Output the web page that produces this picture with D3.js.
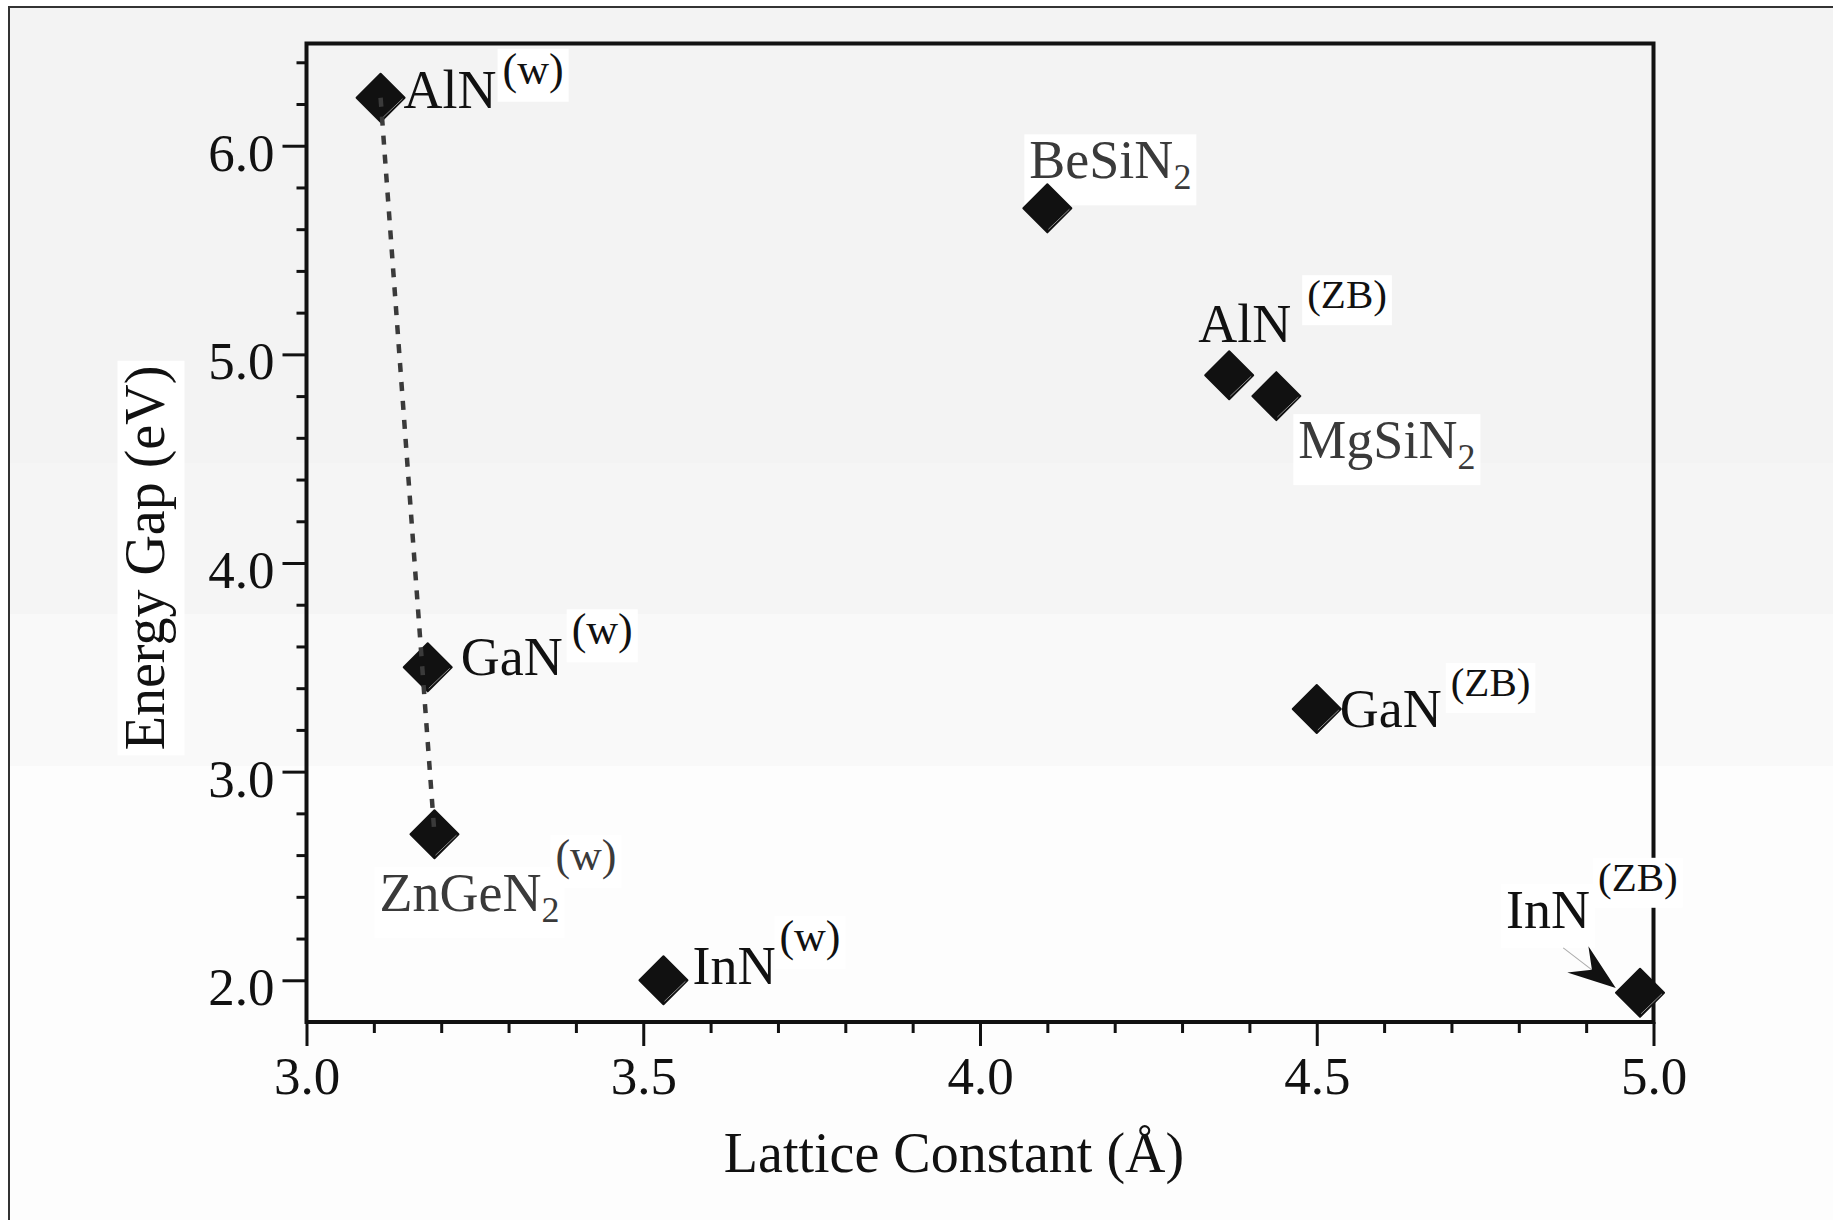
<!DOCTYPE html>
<html>
<head>
<meta charset="utf-8">
<script src="https://cdn.jsdelivr.net/npm/d3@7"></script>
<style>
  html, body { margin: 0; padding: 0; background: #fff; }
  svg { display: block; font-family: "Liberation Serif", "Times New Roman", serif; }
</style>
</head>
<body>
<svg id="chart" width="1833" height="1220"></svg>
<script>
// energy gap vs lattice constant for nitride compounds
const names = ["AlN", "GaN", "ZnGeN", "InN", "BeSiN", "AlN", "MgSiN", "GaN", "InN"];
const subscripts = ["", "", "2", "", "2", "", "2", "", ""];
const superscripts = ["(w)", "(w)", "(w)", "(w)", "", "(ZB)", "", "(ZB)", "(ZB)"];
const latticeConstant = [3.11, 3.18, 3.19, 3.53, 4.10, 4.37, 4.44, 4.50, 4.98];
const energyGap = [6.23, 3.50, 2.70, 2.00, 5.70, 4.90, 4.80, 3.30, 1.94];

const xTicks = [3.0, 3.5, 4.0, 4.5, 5.0];
const yTicks = [2.0, 3.0, 4.0, 5.0, 6.0];

// dotted tie line: indices of the end points
const tieLine = [0, 2];
// arrow to InN(ZB), [lattice constant, gap]
const arrowTail = [4.866, 2.155];
const arrowTip = [4.944, 1.963];

// where each label sits relative to its marker (pixels)
const labelLayout = [
  { dx: 23, dy: 10, supGap: 6, supRise: 24, supSize: 44, color: "#111", mainBox: false, supBox: true },
  { dx: 33, dy: 8, supGap: 9, supRise: 31, supSize: 44, color: "#111", mainBox: false, supBox: true },
  { dx: -55, dy: 77, supGap: -4, supRise: 41, supSize: 44, color: "#3a3a3a", mainBox: true, supBox: true },
  { dx: 29, dy: 4, supGap: 3, supRise: 33, supSize: 44, color: "#111", mainBox: false, supBox: true },
  { dx: -18, dy: -30, supGap: 0, supRise: 0, supSize: 40, color: "#3a3a3a", mainBox: true, supBox: false },
  { dx: -31, dy: -33, supGap: 16, supRise: 34, supSize: 41, color: "#111", mainBox: false, supBox: true },
  { dx: 22, dy: 62, supGap: 0, supRise: 0, supSize: 40, color: "#3a3a3a", mainBox: true, supBox: false },
  { dx: 23, dy: 18, supGap: 9, supRise: 31, supSize: 41, color: "#111", mainBox: false, supBox: true },
  { dx: -134, dy: -65, supGap: 8, supRise: 37, supSize: 41, color: "#111", mainBox: true, supBox: true }
];

const W = 1833, H = 1220;
const svg = d3.select("#chart");

const x = d3.scaleLinear().domain([3.0, 5.0]).range([306.5, 1653.5]);
const y = d3.scaleLinear().domain([1.8, 6.49]).range([1022, 43.5]);

// background bands
const bands = [[7, 463, "#f3f3f3"], [463, 614, "#f5f5f5"], [614, 766, "#f9f9f9"], [766, H, "#fdfdfd"]];
bands.forEach(b => {
  svg.append("rect").attr("x", 9).attr("y", b[0]).attr("width", W).attr("height", b[1] - b[0]).attr("fill", b[2]);
});
svg.append("path").attr("d", `M9,${H} V7 H${W}`).attr("fill", "none").attr("stroke", "#333").attr("stroke-width", 2);

function whiteBox(g, node) {
  const b = node.getBBox();
  g.insert("rect", () => node)
    .attr("x", b.x - 5).attr("y", b.y + 4)
    .attr("width", b.width + 10).attr("height", b.height + 4)
    .attr("fill", "#fff");
}

// axes
const minorX = d3.range(30, 51).map(d => d / 10).filter(v => !xTicks.includes(v));
const minorY = d3.range(10, 33).map(d => d / 5).filter(v => !yTicks.includes(v));

const gxMinor = svg.append("g").attr("transform", `translate(0,${y(1.8)})`)
  .call(d3.axisBottom(x).tickValues(minorX).tickSize(11).tickFormat(""));
const gx = svg.append("g").attr("transform", `translate(0,${y(1.8)})`)
  .call(d3.axisBottom(x).tickValues(xTicks).tickSize(24).tickFormat(d3.format(".1f")));
const gyMinor = svg.append("g").attr("transform", `translate(${x(3)},0)`)
  .call(d3.axisLeft(y).tickValues(minorY).tickSize(10).tickFormat(""));
const gy = svg.append("g").attr("transform", `translate(${x(3)},0)`)
  .call(d3.axisLeft(y).tickValues(yTicks).tickSize(24).tickFormat(d3.format(".1f")));

[gxMinor, gx, gyMinor, gy].forEach(g => {
  g.select(".domain").remove();
  g.selectAll("line").attr("stroke", "#111").attr("stroke-width", 3);
});
gx.selectAll("text").attr("y", 72).attr("dy", null)
  .attr("font-size", 53).attr("font-family", "Liberation Serif").attr("fill", "#111");
gy.selectAll("text").attr("x", -32).attr("y", 24.5).attr("dy", null)
  .attr("font-size", 53).attr("font-family", "Liberation Serif").attr("fill", "#111");

// frame
svg.append("rect")
  .attr("x", x(3)).attr("y", y(6.49))
  .attr("width", x(5) - x(3)).attr("height", y(1.8) - y(6.49))
  .attr("fill", "none").attr("stroke", "#111").attr("stroke-width", 4);

// axis titles
svg.append("text")
  .attr("x", 954).attr("y", 1172)
  .attr("text-anchor", "middle").attr("font-size", 56).attr("fill", "#111")
  .text("Lattice Constant (Å)");

const yTitle = svg.append("g").attr("transform", "translate(163.5,558) rotate(-90)");
const yTitleText = yTitle.append("text")
  .attr("text-anchor", "middle").attr("font-size", 56).attr("fill", "#111")
  .text("Energy Gap (eV)");
whiteBox(yTitle, yTitleText.node());

// labels
const labels = svg.append("g");
names.forEach((name, i) => {
  const L = labelLayout[i];
  const px = x(latticeConstant[i]), py = y(energyGap[i]);
  const g = labels.append("g");
  const t = g.append("text")
    .attr("x", px + L.dx).attr("y", py + L.dy)
    .attr("font-size", 54).attr("fill", L.color);
  t.append("tspan").text(name);
  if (subscripts[i]) t.append("tspan").attr("dy", 11).attr("font-size", 36).text(subscripts[i]);
  if (L.mainBox) whiteBox(g, t.node());
  if (superscripts[i]) {
    const len = t.node().getComputedTextLength();
    const s = g.append("text")
      .attr("x", px + L.dx + len + L.supGap).attr("y", py + L.dy - L.supRise)
      .attr("font-size", L.supSize).attr("fill", L.color)
      .text(superscripts[i]);
    if (L.supBox) whiteBox(g, s.node());
  }
});

// markers
const diamond = d3.symbol().type(d3.symbolSquare).size(1152)();
const marks = svg.append("g").selectAll("g")
  .data(names.map((n, i) => [latticeConstant[i], energyGap[i]]))
  .join("g")
  .attr("transform", d => `translate(${x(d[0])},${y(d[1])})`);
marks.append("path")
  .attr("d", diamond).attr("transform", "rotate(45)")
  .attr("fill", "#111").attr("stroke", "#111").attr("stroke-width", 2).attr("stroke-linejoin", "round");
marks.append("line")
  .attr("x1", 22).attr("y1", 1).attr("x2", 1).attr("y2", 21)
  .attr("stroke", "#8a8a8a").attr("stroke-width", 1);

// dotted tie line
svg.append("path")
  .attr("d", d3.line()(tieLine.map(i => [x(latticeConstant[i]), y(energyGap[i])])))
  .attr("fill", "none").attr("stroke", "#3a3a3a").attr("stroke-width", 4.5)
  .attr("stroke-dasharray", "9 10");

// arrow
const tx = x(arrowTail[0]), ty = y(arrowTail[1]);
const hx = x(arrowTip[0]), hy = y(arrowTip[1]);
const ang = Math.atan2(hy - ty, hx - tx) * 180 / Math.PI;
const alen = Math.hypot(hx - tx, hy - ty);
const arrow = svg.append("g").attr("transform", `translate(${hx},${hy}) rotate(${ang})`);
arrow.append("line").attr("x1", -alen).attr("y1", 0).attr("x2", -30).attr("y2", 0)
  .attr("stroke", "#aaa").attr("stroke-width", 1);
arrow.append("path").attr("d", "M0,0 L-47,-16.5 L-30,0 L-48,17 Z").attr("fill", "#111");
</script>
</body>
</html>
